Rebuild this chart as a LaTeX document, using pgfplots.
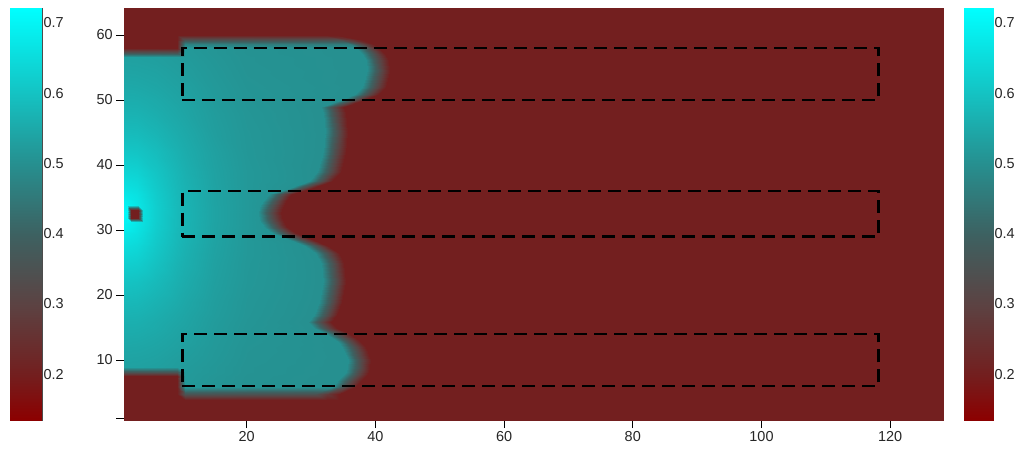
\documentclass[border=0pt]{standalone}
\usepackage{pgfplots}
\pgfplotsset{compat=1.18}
\usepackage{fontspec}
\setmainfont{Liberation Sans}
\pgfplotsset{
  colormap={cm}{rgb(0pt)=(0.55,0,0); rgb(11pt)=(0.45,0.12,0.12); rgb(28pt)=(0.36,0.26,0.26); rgb(45pt)=(0.24,0.38,0.38); rgb(62pt)=(0.15,0.56,0.56); rgb(79pt)=(0.08,0.76,0.76); rgb(100pt)=(0,1,1)},
  cbar/.style={
    scale only axis, colormap name=cm,
    xmin=0, xmax=1, ymin=0.1346, ymax=0.7213,
    point meta min=0.1346, point meta max=0.7213,
    xtick=\empty,
    ytick={0.2,0.3,0.4,0.5,0.6,0.7},
    yticklabels={0.2,0.3,0.4,0.5,0.6,0.7},
    yticklabel pos=right, ytick pos=both,
    tick align=inside, major tick length=4bp,
    tick style={black!70, line width=0.6bp},
    axis line style={black!70, line width=0.8bp},
    tick label style={font=\fontsize{14.5}{16}\selectfont, text=black!85},
    yticklabel style={xshift=-2bp},
  },
}
\begin{document}
\begin{tikzpicture}
\useasboundingbox (0,0) rectangle (1019bp,-449bp);

% left colorbar
\begin{axis}[cbar, at={(10bp,-420bp)}, anchor=south west, width=32bp, height=412bp]
\addplot[surf, shader=interp, mesh/cols=2, point meta=explicit] coordinates {
(0,0.1346)[0.1346] (1,0.1346)[0.1346]
(0,0.7213)[0.7213] (1,0.7213)[0.7213]
};
\end{axis}

% right colorbar
\begin{axis}[cbar, at={(964bp,-420bp)}, anchor=south west, width=29bp, height=412bp]
\addplot[surf, shader=interp, mesh/cols=2, point meta=explicit] coordinates {
(0,0.1346)[0.1346] (1,0.1346)[0.1346]
(0,0.7213)[0.7213] (1,0.7213)[0.7213]
};
\end{axis}

% main map
\begin{axis}[at={(124.3bp,-420bp)}, anchor=south west, scale only axis,
  width=818.7bp, height=411.5bp,
  xmin=1, xmax=128.2, ymin=0.77, ymax=64.08,
  xtick={20,40,60,80,100,120},
  ytick={1,10,20,30,40,50,60}, yticklabels={,10,20,30,40,50,60},
  tick align=outside, tick pos=left, major tick length=8bp,
  tick style={black, line width=0.7bp},
  axis line style={draw=none},
  colormap name=cm, point meta min=0.1346, point meta max=0.7213,
  tick label style={font=\fontsize{14.5}{16}\selectfont, text=black!85},
  /pgf/number format/assume math mode=true,
  clip=true]
\addplot[surf, shader=interp, mesh/cols=11, point meta=explicit] coordinates {
(0.5,0.5)[.2] (3,0.5)[.2] (6,0.5)[.2] (9.2,0.5)[.2] (10.5,0.5)[.2] (15,0.5)[.2] (20,0.5)[.2] (30.7,0.5)[.2] (32.5,0.5)[.2] (34.3,0.5)[.2] (129,0.5)[.2]
(0.5,3.8)[.2] (3,3.8)[.2] (6,3.8)[.2] (9.2,3.8)[.2] (10.5,3.8)[.2] (15,3.8)[.2] (20,3.8)[.2] (30.7,3.8)[.2] (32.5,3.8)[.2] (34.3,3.8)[.2] (129,3.8)[.2]
(0.5,4.8)[.2] (3,4.8)[.2] (6,4.8)[.2] (9.2,4.8)[.2] (10.5,4.8)[.358] (15,4.8)[.355] (20,4.8)[.352] (30.7,4.8)[.35] (32.5,4.8)[.275] (34.3,4.8)[.2] (129,4.8)[.2]
(0.5,5.8)[.2] (3,5.8)[.2] (6,5.8)[.2] (9.2,5.8)[.2] (10.5,5.8)[.517] (15,5.8)[.51] (20,5.8)[.504] (33.2,5.8)[.50] (35,5.8)[.35] (36.8,5.8)[.2] (129,5.8)[.2]
(0.5,7.5)[.2] (3,7.5)[.2] (6,7.5)[.2] (9.2,7.5)[.2] (10.5,7.5)[.52] (15,7.5)[.512] (20,7.5)[.505] (34.9,7.5)[.50] (36.7,7.5)[.35] (38.5,7.5)[.2] (129,7.5)[.2]
(0.5,8.2)[.366] (3,8.2)[.366] (6,8.2)[.365] (9.2,8.2)[.362] (10.5,8.2)[.521] (15,8.2)[.514] (20,8.2)[.506] (35.4,8.2)[.50] (37.2,8.2)[.35] (39,8.2)[.2] (129,8.2)[.2]
(0.5,8.9)[.535] (3,8.9)[.534] (6,8.9)[.531] (9.2,8.9)[.525] (10.5,8.9)[.522] (15,8.9)[.514] (20,8.9)[.506] (35.6,8.9)[.50] (37.4,8.9)[.35] (39.2,8.9)[.2] (129,8.9)[.2]
(0.5,10)[.538] (3,10)[.537] (6,10)[.534] (9.2,10)[.527] (10.5,10)[.525] (15,10)[.516] (20,10)[.507] (35.7,10)[.50] (37.5,10)[.35] (39.3,10)[.2] (129,10)[.2]
(0.5,12)[.545] (3,12)[.544] (6,12)[.54] (9.2,12)[.533] (10.5,12)[.529] (15,12)[.518] (20,12)[.508] (34.9,12)[.50] (36.7,12)[.35] (38.5,12)[.2] (129,12)[.2]
(0.5,13)[.55] (3,13)[.548] (6,13)[.543] (9.2,13)[.535] (10.5,13)[.532] (15,13)[.519] (20,13)[.509] (34,13)[.50] (35.8,13)[.35] (37.6,13)[.2] (129,13)[.2]
(0.5,14)[.554] (3,14)[.553] (6,14)[.547] (9.2,14)[.538] (10.5,14)[.534] (15,14)[.52] (20,14)[.51] (32.4,14)[.50] (34.2,14)[.35] (36,14)[.2] (129,14)[.2]
(0.5,15)[.558] (3,15)[.557] (6,15)[.551] (9.2,15)[.54] (10.5,15)[.537] (15,15)[.522] (20,15)[.51] (30.4,15)[.50] (32.2,15)[.35] (34,15)[.2] (129,15)[.2]
(0.5,15.8)[.562] (3,15.8)[.561] (6,15.8)[.553] (9.2,15.8)[.543] (10.5,15.8)[.539] (15,15.8)[.523] (20,15.8)[.511] (29.5,15.8)[.50] (31.3,15.8)[.35] (33.1,15.8)[.2] (129,15.8)[.2]
(0.5,17)[.568] (3,17)[.567] (6,17)[.558] (9.2,17)[.546] (10.5,17)[.541] (15,17)[.525] (20,17)[.512] (30.5,17)[.50] (32.3,17)[.35] (34.1,17)[.2] (129,17)[.2]
(0.5,19)[.58] (3,19)[.578] (6,19)[.567] (9.2,19)[.553] (10.5,19)[.546] (15,19)[.527] (20,19)[.513] (31.3,19)[.50] (33.1,19)[.35] (34.9,19)[.2] (129,19)[.2]
(0.5,22)[.601] (3,22)[.597] (6,22)[.582] (9.2,22)[.562] (10.5,22)[.554] (15,22)[.531] (20,22)[.515] (31.9,22)[.50] (33.7,22)[.35] (35.5,22)[.2] (129,22)[.2]
(0.5,25)[.627] (3,25)[.621] (6,25)[.597] (9.2,25)[.57] (10.5,25)[.561] (15,25)[.534] (20,25)[.516] (31.6,25)[.50] (33.4,25)[.35] (35.2,25)[.2] (129,25)[.2]
(0.5,26.5)[.642] (3,26.5)[.634] (6,26.5)[.605] (9.2,26.5)[.575] (10.5,26.5)[.564] (15,26.5)[.536] (20,26.5)[.517] (30.7,26.5)[.50] (32.5,26.5)[.35] (34.3,26.5)[.2] (129,26.5)[.2]
(0.5,27.5)[.653] (3,27.5)[.642] (6,27.5)[.609] (9.2,27.5)[.577] (10.5,27.5)[.566] (15,27.5)[.537] (20,27.5)[.517] (29.1,27.5)[.502] (30.9,27.5)[.351] (32.7,27.5)[.2] (129,27.5)[.2]
(0.5,28.5)[.664] (3,28.5)[.651] (6,28.5)[.613] (9.2,28.5)[.579] (10.5,28.5)[.568] (15,28.5)[.538] (20,28.5)[.517] (26.8,28.5)[.503] (28.6,28.5)[.352] (30.4,28.5)[.2] (129,28.5)[.2]
(0.5,29.5)[.677] (3,29.5)[.66] (6,29.5)[.617] (9.2,29.5)[.58] (10.5,29.5)[.568] (15,29.5)[.538] (20,29.5)[.517] (24,29.5)[.506] (25.8,29.5)[.353] (27.6,29.5)[.2] (129,29.5)[.2]
(0.5,30.5)[.697] (3,30.5)[.667] (6,30.5)[.62] (9.2,30.5)[.582] (10.5,30.5)[.569] (15,30.5)[.538] (20,30.5)[.518] (22.7,30.5)[.509] (24.5,30.5)[.354] (26.3,30.5)[.2] (129,30.5)[.2]
(0.5,31.5)[.705] (3,31.5)[.672] (6,31.5)[.622] (9.2,31.5)[.582] (10.5,31.5)[.57] (15,31.5)[.539] (20,31.5)[.518] (22,31.5)[.511] (23.8,31.5)[.355] (25.6,31.5)[.2] (129,31.5)[.2]
(0.5,32.6)[.72] (3,32.6)[.674] (6,32.6)[.622] (9.2,32.6)[.583] (10.5,32.6)[.571] (15,32.6)[.539] (20,32.6)[.518] (21.7,32.6)[.512] (23.5,32.6)[.356] (25.3,32.6)[.2] (129,32.6)[.2]
(0.5,33.5)[.705] (3,33.5)[.672] (6,33.5)[.622] (9.2,33.5)[.582] (10.5,33.5)[.57] (15,33.5)[.539] (20,33.5)[.518] (22,33.5)[.511] (23.8,33.5)[.355] (25.6,33.5)[.2] (129,33.5)[.2]
(0.5,34.5)[.697] (3,34.5)[.667] (6,34.5)[.62] (9.2,34.5)[.582] (10.5,34.5)[.569] (15,34.5)[.538] (20,34.5)[.518] (22.6,34.5)[.51] (24.4,34.5)[.355] (26.2,34.5)[.2] (129,34.5)[.2]
(0.5,35.5)[.677] (3,35.5)[.66] (6,35.5)[.617] (9.2,35.5)[.58] (10.5,35.5)[.568] (15,35.5)[.538] (20,35.5)[.517] (23.5,35.5)[.507] (25.3,35.5)[.353] (27.1,35.5)[.2] (129,35.5)[.2]
(0.5,36.5)[.664] (3,36.5)[.651] (6,36.5)[.613] (9.2,36.5)[.579] (10.5,36.5)[.568] (15,36.5)[.538] (20,36.5)[.517] (26.7,36.5)[.504] (28.5,36.5)[.352] (30.3,36.5)[.2] (129,36.5)[.2]
(0.5,37.5)[.653] (3,37.5)[.642] (6,37.5)[.609] (9.2,37.5)[.577] (10.5,37.5)[.566] (15,37.5)[.537] (20,37.5)[.517] (29.7,37.5)[.502] (31.5,37.5)[.351] (33.3,37.5)[.2] (129,37.5)[.2]
(0.5,39)[.636] (3,39)[.63] (6,39)[.603] (9.2,39)[.574] (10.5,39)[.563] (15,39)[.536] (20,39)[.517] (31,39)[.50] (32.8,39)[.35] (34.6,39)[.2] (129,39)[.2]
(0.5,42)[.609] (3,42)[.604] (6,42)[.588] (9.2,42)[.565] (10.5,42)[.556] (15,42)[.533] (20,42)[.515] (31.8,42)[.50] (33.6,42)[.35] (35.4,42)[.2] (129,42)[.2]
(0.5,45)[.586] (3,45)[.584] (6,45)[.572] (9.2,45)[.555] (10.5,45)[.549] (15,45)[.528] (20,45)[.514] (32.2,45)[.50] (34,45)[.35] (35.8,45)[.2] (129,45)[.2]
(0.5,48)[.568] (3,48)[.567] (6,48)[.558] (9.2,48)[.546] (10.5,48)[.541] (15,48)[.525] (20,48)[.512] (31.8,48)[.50] (33.6,48)[.35] (35.4,48)[.2] (129,48)[.2]
(0.5,49)[.563] (3,49)[.562] (6,49)[.554] (9.2,49)[.544] (10.5,49)[.539] (15,49)[.523] (20,49)[.511] (31.5,49)[.50] (33.3,49)[.35] (35.1,49)[.2] (129,49)[.2]
(0.5,50)[.558] (3,50)[.557] (6,50)[.551] (9.2,50)[.54] (10.5,50)[.537] (15,50)[.522] (20,50)[.51] (34.7,50)[.50] (36.5,50)[.35] (38.3,50)[.2] (129,50)[.2]
(0.5,51)[.554] (3,51)[.553] (6,51)[.547] (9.2,51)[.538] (10.5,51)[.534] (15,51)[.52] (20,51)[.51] (36.9,51)[.50] (38.7,51)[.35] (40.5,51)[.2] (129,51)[.2]
(0.5,52)[.55] (3,52)[.548] (6,52)[.543] (9.2,52)[.535] (10.5,52)[.532] (15,52)[.519] (20,52)[.509] (38,52)[.50] (39.8,52)[.35] (41.6,52)[.2] (129,52)[.2]
(0.5,54.5)[.54] (3,54.5)[.539] (6,54.5)[.536] (9.2,54.5)[.529] (10.5,54.5)[.526] (15,54.5)[.516] (20,54.5)[.507] (38.7,54.5)[.50] (40.5,54.5)[.35] (42.3,54.5)[.2] (129,54.5)[.2]
(0.5,56)[.535] (3,56)[.534] (6,56)[.531] (9.2,56)[.526] (10.5,56)[.523] (15,56)[.514] (20,56)[.506] (38.5,56)[.50] (40.3,56)[.35] (42.1,56)[.2] (129,56)[.2]
(0.5,56.6)[.533] (3,56.6)[.533] (6,56.6)[.53] (9.2,56.6)[.524] (10.5,56.6)[.521] (15,56.6)[.513] (20,56.6)[.506] (38.2,56.6)[.50] (40,56.6)[.35] (41.8,56.6)[.2] (129,56.6)[.2]
(0.5,57.3)[.366] (3,57.3)[.365] (6,57.3)[.364] (9.2,57.3)[.361] (10.5,57.3)[.52] (15,57.3)[.512] (20,57.3)[.505] (37.8,57.3)[.50] (39.6,57.3)[.35] (41.4,57.3)[.2] (129,57.3)[.2]
(0.5,58)[.2] (3,58)[.2] (6,58)[.2] (9.2,58)[.2] (10.5,58)[.519] (15,58)[.512] (20,58)[.505] (37,58)[.50] (38.8,58)[.35] (40.6,58)[.2] (129,58)[.2]
(0.5,58.6)[.2] (3,58.6)[.2] (6,58.6)[.2] (9.2,58.6)[.2] (10.5,58.6)[.47] (15,58.6)[.464] (20,58.6)[.459] (36,58.6)[.455] (37.8,58.6)[.328] (39.6,58.6)[.2] (129,58.6)[.2]
(0.5,59.2)[.2] (3,59.2)[.2] (6,59.2)[.2] (9.2,59.2)[.2] (10.5,59.2)[.358] (15,59.2)[.355] (20,59.2)[.352] (34.5,59.2)[.35] (36.3,59.2)[.275] (38.1,59.2)[.2] (129,59.2)[.2]
(0.5,60)[.2] (3,60)[.2] (6,60)[.2] (9.2,60)[.2] (10.5,60)[.2] (15,60)[.2] (20,60)[.2] (32,60)[.2] (33.8,60)[.2] (35.6,60)[.2] (129,60)[.2]
(0.5,64.5)[.2] (3,64.5)[.2] (6,64.5)[.2] (9.2,64.5)[.2] (10.5,64.5)[.2] (15,64.5)[.2] (20,64.5)[.2] (32,64.5)[.2] (33.8,64.5)[.2] (35.6,64.5)[.2] (129,64.5)[.2]
};
% small dark square near the source
\addplot[surf, shader=interp, mesh/cols=4, point meta=explicit] coordinates {
(1.4,31.2)[.698] (2.1,31.2)[.688] (3.2,31.2)[.668] (3.9,31.2)[.655]
(1.4,31.9)[.706] (2.1,31.9)[.2] (3.2,31.9)[.2] (3.9,31.9)[.656]
(1.4,33.1)[.706] (2.1,33.1)[.2] (3.2,33.1)[.2] (3.9,33.1)[.656]
(1.4,33.8)[.698] (2.1,33.8)[.688] (3.2,33.8)[.668] (3.9,33.8)[.655]
};
% dashed rectangles
\addplot[black, line width=2.8bp, dash pattern=on 13bp off 7bp] coordinates {(10,50) (118.2,50) (118.2,58) (10,58) (10,50)};
\addplot[black, line width=2.8bp, dash pattern=on 13bp off 7bp] coordinates {(10,29) (118.2,29) (118.2,36) (10,36) (10,29)};
\addplot[black, line width=2.8bp, dash pattern=on 13bp off 7bp] coordinates {(10,6) (118.2,6) (118.2,14) (10,14) (10,6)};
\end{axis}
\end{tikzpicture}
\end{document}
